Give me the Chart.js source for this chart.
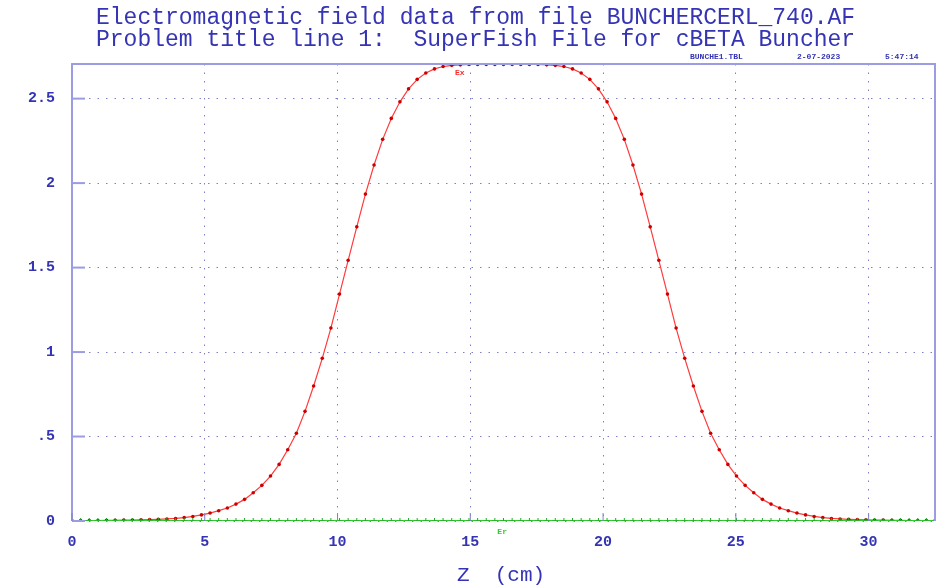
<!DOCTYPE html>
<html>
<head>
<meta charset="utf-8">
<script src="https://cdn.jsdelivr.net/npm/chart.js@4"></script>
<style>
  body { margin: 0; background: #fff; }
  #wrap { width: 937px; height: 587px; }
</style>
</head>
<body>
<div id="wrap"><canvas id="fieldChart" width="937" height="587"></canvas></div>
<script>
const titleLines = [
  "Electromagnetic field data from file BUNCHERCERL_740.AF",
  "Problem title line 1:  SuperFish File for cBETA Buncher",
];
const stampTexts = ["BUNCHE1.TBL", "2-07-2023", "5:47:14"];
const xAxisTitle = "Z  (cm)";

// z positions of the tabulated points (cm)
const zValues = [
  0, 0.325, 0.65, 0.975, 1.3, 1.625, 1.95, 2.275, 2.6, 2.925,
  3.25, 3.575, 3.9, 4.225, 4.55, 4.875, 5.2, 5.525, 5.85, 6.175,
  6.5, 6.825, 7.15, 7.475, 7.8, 8.125, 8.45, 8.775, 9.1, 9.425,
  9.75, 10.075, 10.4, 10.725, 11.05, 11.375, 11.7, 12.025, 12.35, 12.675,
  13, 13.325, 13.65, 13.975, 14.3, 14.625, 14.95, 15.275, 15.6, 15.925,
  16.25, 16.575, 16.9, 17.225, 17.55, 17.875, 18.2, 18.525, 18.85, 19.175,
  19.5, 19.825, 20.15, 20.475, 20.8, 21.125, 21.45, 21.775, 22.1, 22.425,
  22.75, 23.075, 23.4, 23.725, 24.05, 24.375, 24.7, 25.025, 25.35, 25.675,
  26, 26.325, 26.65, 26.975, 27.3, 27.625, 27.95, 28.275, 28.6, 28.925,
  29.25, 29.575, 29.9, 30.225, 30.55, 30.875, 31.2, 31.525, 31.85, 32.175,
  32.5,
];

const exValues = [
  0.002, 0.002, 0.003, 0.003, 0.004, 0.004, 0.005, 0.006, 0.007, 0.008,
  0.010, 0.012, 0.015, 0.020, 0.027, 0.036, 0.047, 0.061, 0.077, 0.100,
  0.128, 0.167, 0.211, 0.266, 0.335, 0.422, 0.519, 0.649, 0.799, 0.963,
  1.142, 1.343, 1.543, 1.741, 1.935, 2.107, 2.259, 2.383, 2.481, 2.558,
  2.614, 2.652, 2.676, 2.690, 2.697, 2.700, 2.702, 2.702, 2.702, 2.702,
  2.702, 2.702, 2.702, 2.702, 2.702, 2.700, 2.697, 2.690, 2.676, 2.652,
  2.614, 2.558, 2.481, 2.383, 2.259, 2.107, 1.935, 1.741, 1.543, 1.343,
  1.142, 0.963, 0.799, 0.649, 0.519, 0.422, 0.335, 0.266, 0.211, 0.167,
  0.128, 0.100, 0.077, 0.061, 0.047, 0.036, 0.027, 0.020, 0.015, 0.012,
  0.010, 0.008, 0.007, 0.006, 0.005, 0.004, 0.004, 0.003, 0.003, 0.002,
  0.002,
];

const erValues = [
  0, 0, 0, 0, 0, 0, 0, 0, 0, 0, 0, 0, 0, 0, 0, 0, 0, 0, 0, 0,
  0, 0, 0, 0, 0, 0, 0, 0, 0, 0, 0, 0, 0, 0, 0, 0, 0, 0, 0, 0,
  0, 0, 0, 0, 0, 0, 0, 0, 0, 0, 0, 0, 0, 0, 0, 0, 0, 0, 0, 0,
  0, 0, 0, 0, 0, 0, 0, 0, 0, 0, 0, 0, 0, 0, 0, 0, 0, 0, 0, 0,
  0, 0, 0, 0, 0, 0, 0, 0, 0, 0, 0, 0, 0, 0, 0, 0, 0, 0, 0, 0,
  0,
];

const BLUE = "#3434b4";
const FRAME = "#9c9ce2";
const GRID = "#7f7fc8";
const MONO = "'Liberation Mono', 'DejaVu Sans Mono', monospace";

const toPoints = (vals) => zValues.map((z, i) => ({ x: z, y: vals[i] }));

// texts and frame decorations around the plot
const decorations = {
  id: "decorations",
  afterDraw(chart) {
    const ctx = chart.ctx;
    const area = chart.chartArea;
    const xs = chart.scales.x;
    const ys = chart.scales.y;
    ctx.save();

    // frame
    ctx.strokeStyle = FRAME;
    ctx.lineWidth = 2;
    ctx.beginPath();
    ctx.moveTo(area.left, area.bottom);
    ctx.lineTo(area.left, area.top);
    ctx.lineTo(area.right, area.top);
    ctx.lineTo(area.right, area.bottom);
    ctx.stroke();

    // short tick marks on the left axis
    ys.ticks.forEach((t) => {
      const py = ys.getPixelForValue(t.value);
      ctx.beginPath();
      ctx.moveTo(area.left, py);
      ctx.lineTo(area.left + 13, py);
      ctx.stroke();
    });
    ctx.lineWidth = 1;
    ctx.strokeStyle = GRID;
    xs.ticks.forEach((t) => {
      const px = xs.getPixelForValue(t.value);
      ctx.beginPath();
      ctx.moveTo(px, area.bottom);
      ctx.lineTo(px, area.bottom - 8);
      ctx.stroke();
    });

    // titles
    ctx.fillStyle = BLUE;
    ctx.textBaseline = "middle";
    ctx.textAlign = "left";
    ctx.font = "23px " + MONO;
    ctx.fillText(titleLines[0], 96, 18);
    ctx.fillText(titleLines[1], 96, 40);

    ctx.font = "bold 8px " + MONO;
    ctx.fillText(stampTexts[0], 690, 57);
    ctx.fillText(stampTexts[1], 797, 57);
    ctx.fillText(stampTexts[2], 885, 57);

    ctx.textAlign = "center";
    ctx.font = "21px " + MONO;
    ctx.fillText(xAxisTitle, 501, 575);

    // series labels
    ctx.font = "bold 8px " + MONO;
    ctx.fillStyle = "#ff2a2a";
    ctx.fillText("Ex", xs.getPixelForValue(14.6), ys.getPixelForValue(2.65));
    ctx.fillStyle = "#33cc33";
    ctx.fillText("Er", xs.getPixelForValue(16.2), area.bottom + 11);
    ctx.restore();
  },
};

const ctx = document.getElementById("fieldChart").getContext("2d");
const fieldChart = new Chart(ctx, {
  type: "line",
  data: {
    datasets: [
      {
        label: "Er",
        data: toPoints(erValues),
        borderColor: "#33cc33",
        borderWidth: 2,
        pointStyle: "cross",
        pointRadius: 3,
        pointBorderColor: "#22aa22",
        pointBorderWidth: 1,
        tension: 0,
      },
      {
        label: "Ex",
        data: toPoints(exValues),
        borderColor: "#ff3b3b",
        borderWidth: 1.2,
        pointRadius: 1.8,
        pointBackgroundColor: "#cc0000",
        pointBorderColor: "#cc0000",
        pointBorderWidth: 0,
        tension: 0,
      },
    ],
  },
  options: {
    responsive: false,
    animation: false,
    layout: {
      padding: { top: 64, right: 2, left: 0, bottom: 0 },
      autoPadding: false,
    },
    plugins: {
      legend: { display: false },
      tooltip: { enabled: false },
    },
    scales: {
      x: {
        type: "linear",
        min: 0,
        max: 32.5,
        afterFit: (scale) => {
          scale.height = 66;
          scale.paddingLeft = 0;
          scale.paddingRight = 0;
        },
        ticks: {
          stepSize: 5,
          includeBounds: false,
          padding: 12,
          color: BLUE,
          font: { family: MONO, size: 15, weight: "bold" },
          maxRotation: 0,
        },
        grid: {
          color: GRID,
          lineWidth: 1,
          drawTicks: false,
        },
        border: { display: false, dash: [1.5, 7] },
      },
      y: {
        min: 0,
        max: 2.705,
        afterFit: (scale) => {
          scale.width = 72;
          scale.paddingTop = 0;
          scale.paddingBottom = 0;
        },
        ticks: {
          stepSize: 0.5,
          includeBounds: false,
          padding: 17,
          color: BLUE,
          font: { family: MONO, size: 15, weight: "bold" },
          callback: function (value) {
            if (value === 0) return "0";
            if (value < 1) return String(value).replace(/^0/, "");
            return String(value);
          },
        },
        grid: {
          color: GRID,
          lineWidth: 1,
          drawTicks: false,
        },
        border: { display: false, dash: [1.5, 7] },
      },
    },
  },
  plugins: [decorations],
});
</script>
</body>
</html>
